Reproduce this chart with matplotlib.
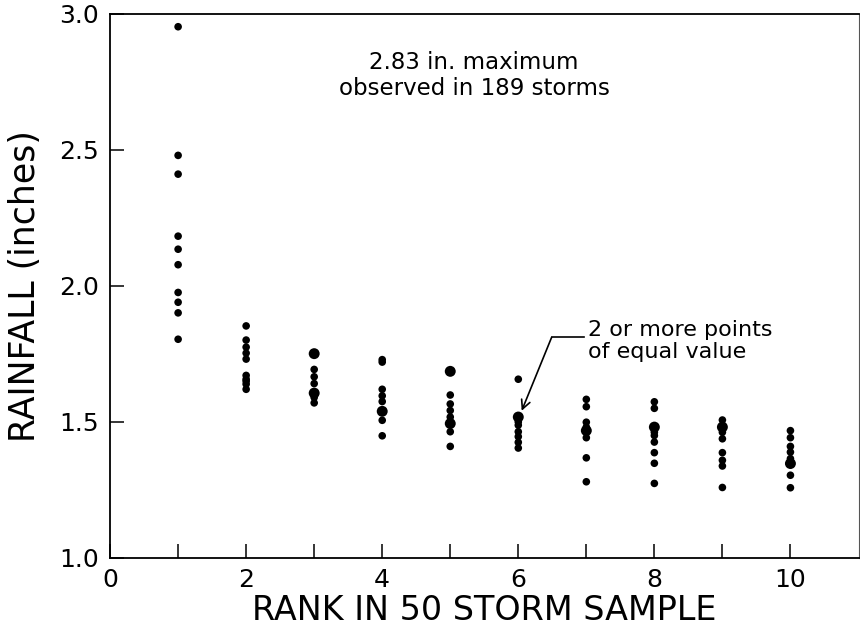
import collections
import matplotlib
matplotlib.use("Agg")
import matplotlib.pyplot as plt
from matplotlib.ticker import FormatStrFormatter

# rainfall values, one list per rank
ranks = [1, 2, 3, 4, 5, 6, 7, 8, 9, 10]
rank_1 = [2.953, 2.480, 2.411, 2.183, 2.135, 2.078, 1.976, 1.940, 1.901, 1.804]
rank_2 = [1.853, 1.801, 1.775, 1.753, 1.731, 1.671, 1.657, 1.650, 1.639, 1.620]
rank_3 = [1.751, 1.751, 1.693, 1.666, 1.641, 1.606, 1.606, 1.590, 1.570]
rank_4 = [1.729, 1.720, 1.620, 1.596, 1.575, 1.539, 1.539, 1.506, 1.449]
rank_5 = [1.686, 1.686, 1.599, 1.566, 1.542, 1.518, 1.494, 1.494, 1.464, 1.410]
rank_6 = [1.657, 1.518, 1.518, 1.500, 1.488, 1.464, 1.446, 1.425, 1.404]
rank_7 = [1.583, 1.556, 1.499, 1.481, 1.468, 1.468, 1.442, 1.368, 1.280]
rank_8 = [1.574, 1.550, 1.481, 1.481, 1.462, 1.450, 1.426, 1.387, 1.348, 1.274]
rank_9 = [1.507, 1.481, 1.481, 1.462, 1.438, 1.387, 1.359, 1.338, 1.259]
rank_10 = [1.468, 1.442, 1.410, 1.389, 1.365, 1.347, 1.347, 1.304, 1.258]
all_ranks = [rank_1, rank_2, rank_3, rank_4, rank_5,
             rank_6, rank_7, rank_8, rank_9, rank_10]

x_labels = [0, 2, 4, 6, 8, 10]
x_minor = [1, 3, 5, 7, 9]
y_labels = [1.0, 1.5, 2.0, 2.5, 3.0]

plt.rcParams['font.family'] = ['DejaVu Sans']

fig = plt.figure(figsize=(8.6, 6.34), dpi=100)
ax = fig.add_axes([0.128, 0.12, 0.871, 0.858])

# points of equal value get a bigger dot
for r, vals in zip(ranks, all_ranks):
    counts = collections.Counter(vals)
    xs = [r] * len(counts)
    ys = list(counts.keys())
    sizes = [30 if c == 1 else 62 for c in counts.values()]
    ax.scatter(xs, ys, s=sizes, color='black', linewidths=0, zorder=3)

ax.set_xlim(0, 11.01)
ax.set_ylim(1.0, 3.0)

ax.set_xticks(x_labels)
ax.set_xticks(x_minor, minor=True)
ax.set_yticks(y_labels)
ax.yaxis.set_major_formatter(FormatStrFormatter('%.1f'))

ax.tick_params(axis='both', which='both', direction='in', length=10,
               width=1.1, colors='black', labelsize=18)
ax.tick_params(axis='x', pad=7)
ax.tick_params(axis='y', pad=8)

for side in ['left', 'bottom', 'top']:
    ax.spines[side].set_linewidth(1.3)
ax.spines['right'].set_linewidth(0.8)
ax.spines['right'].set_color('#555555')

ax.set_xlabel("RANK IN 50 STORM SAMPLE", fontsize=24, labelpad=2)
ax.set_ylabel("RAINFALL (inches)", fontsize=25, labelpad=12)

ax.text(5.35, 2.773, "2.83 in. maximum\nobserved in 189 storms",
        ha='center', va='center', fontsize=16.5, linespacing=1.2)

# "2 or more points" note with its elbow arrow
ax.text(7.03, 1.797, "2 or more points\nof equal value",
        ha='left', va='center', fontsize=16, linespacing=1.15)
ax.plot([6.49, 6.97], [1.811, 1.811], color='black', lw=1.2)
ax.annotate('', xy=(6.05, 1.541), xytext=(6.49, 1.811),
            arrowprops=dict(arrowstyle='->', color='black', lw=1.2,
                            shrinkA=0, shrinkB=0, mutation_scale=16))

fig.savefig("out.png", dpi=100)
